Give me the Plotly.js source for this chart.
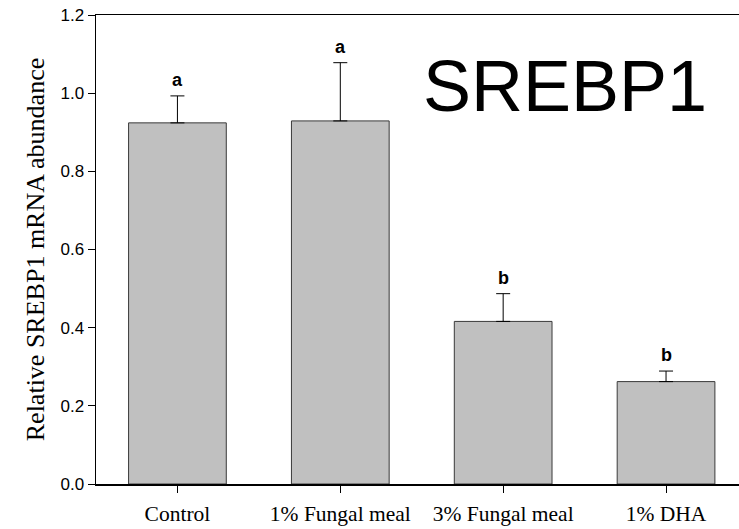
<!DOCTYPE html>
<html>
<head>
<meta charset="utf-8">
<script src="https://cdn.plot.ly/plotly-3.0.1.min.js"></script>
<style>
  html, body { margin: 0; padding: 0; background: #fff; }
  #chart { width: 739px; height: 529px; }
</style>
</head>
<body>
<div id="chart"></div>
<script>
// data
const groups = ["Control", "1% Fungal meal", "3% Fungal meal", "1% DHA"];
const means = [0.924, 0.929, 0.416, 0.262];
const sems = [0.069, 0.149, 0.071, 0.027];
const letters = ["a", "a", "b", "b"];

const bars = {
  type: "bar",
  x: groups,
  y: means,
  width: 0.6,
  marker: { color: "#c0c0c0", line: { color: "#3a3a3a", width: 1 } },
  error_y: {
    type: "data",
    symmetric: false,
    array: sems,
    arrayminus: sems.map(() => 0),
    color: "#000",
    thickness: 1,
    width: 7,
  },
  hoverinfo: "skip",
};

// significance letters above each error bar
const letterNotes = groups.map((g, i) => ({
  x: g,
  y: means[i] + sems[i],
  xref: "x",
  yref: "y",
  text: "<b>" + letters[i] + "</b>",
  showarrow: false,
  yanchor: "bottom",
  yshift: 4,
  font: { family: "Liberation Sans, Arial", size: 18, color: "#000" },
}));

const layout = {
  width: 739,
  height: 529,
  margin: { l: 96, r: 0, t: 15, b: 45 },
  paper_bgcolor: "#fff",
  plot_bgcolor: "#fff",
  showlegend: false,
  bargap: 0.4,
  xaxis: {
    type: "category",
    range: [-0.5, 3.448],
    showline: true,
    linecolor: "#000",
    linewidth: 1.5,
    mirror: true,
    ticks: "outside",
    ticklen: 7,
    tickcolor: "#000",
    ticklabelstandoff: 3,
    showgrid: false,
    zeroline: false,
    tickfont: { family: "Liberation Serif, Times New Roman", size: 21.5, color: "#000" },
  },
  yaxis: {
    range: [0, 1.2],
    dtick: 0.2,
    tickformat: ".1f",
    showline: true,
    linecolor: "#000",
    linewidth: 1.5,
    ticks: "outside",
    ticklen: 7,
    tickcolor: "#000",
    showgrid: false,
    zeroline: false,
    tickfont: { family: "Liberation Sans, Arial", size: 17, color: "#000" },
    title: {
      text: "Relative SREBP1 mRNA abundance",
      font: { family: "Liberation Serif, Times New Roman", size: 26, color: "#000" },
      standoff: 8,
    },
  },
  annotations: letterNotes.concat([
    {
      text: "SREBP1",
      xref: "paper",
      yref: "paper",
      x: 0.729,
      y: 0.849,
      xanchor: "center",
      yanchor: "middle",
      showarrow: false,
      font: { family: "Liberation Sans, Arial", size: 72, color: "#000" },
    },
  ]),
};

Plotly.newPlot("chart", [bars], layout, { staticPlot: true, displayModeBar: false });
</script>
</body>
</html>
